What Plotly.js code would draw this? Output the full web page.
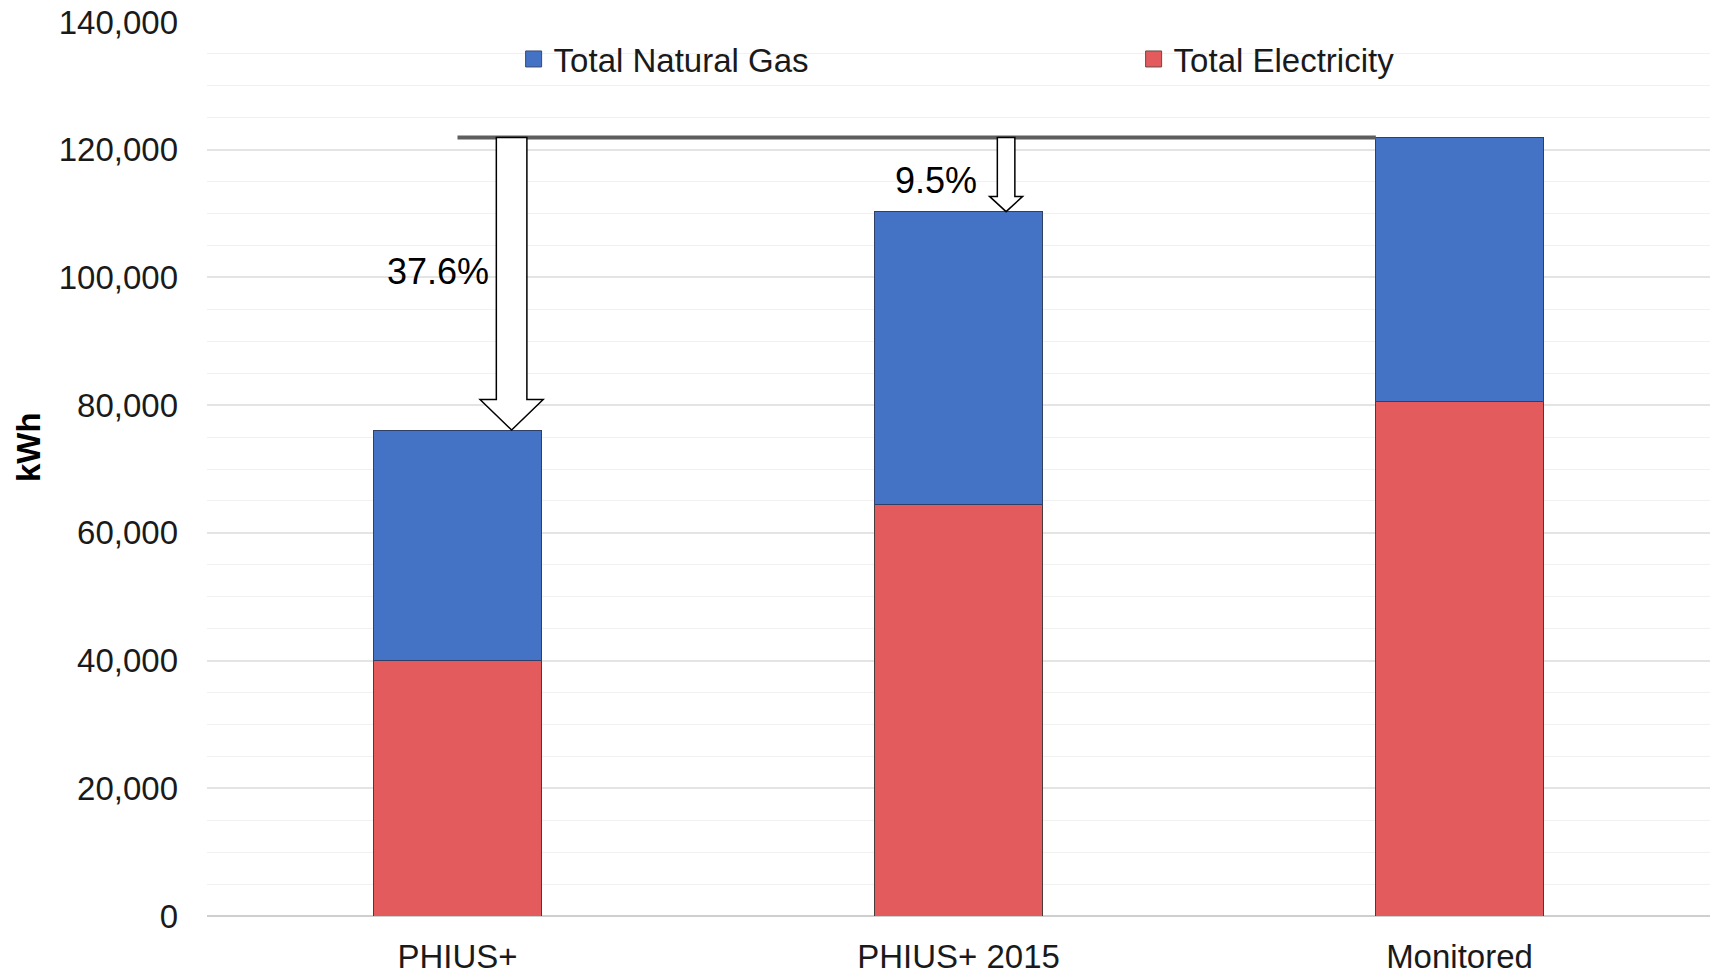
<!DOCTYPE html>
<html>
<head>
<meta charset="utf-8">
<script src="https://cdn.plot.ly/plotly-3.0.1.min.js"></script>
<style>
  html, body { margin: 0; padding: 0; background: #ffffff; }
  #chart { width: 1710px; height: 978px; }
</style>
</head>
<body>
<div id="chart"></div>
<script>
// ---- Data ----
const categories = ["PHIUS+", "PHIUS+ 2015", "Monitored"];
const electricity = [40000, 64500, 80600];
const naturalGas = [36100, 45800, 41300];
const seriesNames = ["Total Electricity", "Total Natural Gas"];
const reductionLabels = ["37.6%", "9.5%"];
const yTicks = [0, 20000, 40000, 60000, 80000, 100000, 120000, 140000];

// ---- Derived ----
const totals = electricity.map((e, i) => e + naturalGas[i]);
const refTotal = totals[2];

const FONT = '"Liberation Sans", Arial, sans-serif';
const barWidthFrac = 0.334;
const COLORS = { elec: '#E45B5E', gas: '#4472C4' };
const EDGES = { elec: '#4a3a3a', gas: '#2f3f66' };

// Block-arrow path helper (x in category serial units, y in data units)
function arrowPath(xc, shaftHalf, headHalf, yTop, yTip, headH) {
  const yNeck = yTip + headH;
  return `M${xc - shaftHalf},${yTop} L${xc + shaftHalf},${yTop} L${xc + shaftHalf},${yNeck} ` +
         `L${xc + headHalf},${yNeck} L${xc},${yTip} L${xc - headHalf},${yNeck} ` +
         `L${xc - shaftHalf},${yNeck} Z`;
}

const arrowSpecs = [
  { cat: 0, dx: 0.108, shaftHalf: 0.0305, headHalf: 0.063, headH: 4780, labelDx: 0.067, labelY: 100900 },
  { cat: 1, dx: 0.095, shaftHalf: 0.0175, headHalf: 0.033, headH: 2390, labelDx: 0.040, labelY: 115200 }
];

const shapes = [
  {
    type: 'line', xref: 'x', yref: 'y',
    x0: 0, x1: 2 - barWidthFrac / 2, y0: refTotal, y1: refTotal,
    line: { color: '#5e5e5e', width: 4 }, layer: 'above'
  }
];
const annotations = [];
arrowSpecs.forEach((a, i) => {
  shapes.push({
    type: 'path', xref: 'x', yref: 'y',
    path: arrowPath(a.cat + a.dx, a.shaftHalf, a.headHalf, refTotal, totals[a.cat], a.headH),
    fillcolor: '#ffffff', line: { color: '#000000', width: 1.5 }, layer: 'above'
  });
  annotations.push({
    xref: 'x', yref: 'y', x: a.cat + a.labelDx, y: a.labelY,
    text: reductionLabels[i], showarrow: false, xanchor: 'right', yanchor: 'middle',
    font: { family: FONT, size: 36, color: '#000000' }
  });
});
// y-axis title (placed as a rotated annotation to match the original's offset)
annotations.push({
  xref: 'paper', yref: 'paper', x: -0.1191, y: 0.5246,
  text: '<b>kWh</b>', textangle: -90, showarrow: false,
  xanchor: 'center', yanchor: 'middle',
  font: { family: FONT, size: 33, color: '#000000' }
});

const traces = [
  {
    type: 'bar', name: seriesNames[0], x: categories, y: electricity,
    legendgroup: 'elec', showlegend: false,
    marker: { color: COLORS.elec, line: { color: EDGES.elec, width: 1 } },
    hoverinfo: 'x+y+name'
  },
  {
    type: 'bar', name: seriesNames[1], x: categories, y: naturalGas,
    legendgroup: 'gas', showlegend: false,
    marker: { color: COLORS.gas, line: { color: EDGES.gas, width: 1 } },
    hoverinfo: 'x+y+name'
  },
  // legend keys (larger square swatches, same series)
  {
    type: 'scatter', mode: 'markers', name: seriesNames[0], x: [null], y: [null],
    legendgroup: 'elec', showlegend: true, hoverinfo: 'skip',
    marker: { symbol: 'square', size: 16, color: COLORS.elec, line: { color: '#6a4a4a', width: 1 } }
  },
  {
    type: 'scatter', mode: 'markers', name: seriesNames[1], x: [null], y: [null],
    legendgroup: 'gas', showlegend: true, hoverinfo: 'skip',
    marker: { symbol: 'square', size: 16, color: COLORS.gas, line: { color: '#3a4a70', width: 1 } }
  }
];

const layout = {
  width: 1710, height: 978,
  margin: { l: 207, r: 0, t: 22, b: 62, pad: 0, autoexpand: false },
  paper_bgcolor: '#ffffff', plot_bgcolor: '#ffffff',
  font: { family: FONT, size: 33, color: '#1a1a1a' },
  barmode: 'stack',
  bargap: 1 - barWidthFrac,
  showlegend: true,
  legend: {
    orientation: 'h', traceorder: 'reversed',
    xref: 'paper', yref: 'paper',
    x: 0.204, xanchor: 'left',
    y: 0.9586, yanchor: 'middle',
    entrywidth: 575, entrywidthmode: 'pixels',
    itemsizing: 'trace',
    font: { family: FONT, size: 33, color: '#1a1a1a' },
    bgcolor: 'rgba(0,0,0,0)', borderwidth: 0
  },
  xaxis: {
    type: 'category',
    showgrid: false, showline: false, zeroline: false,
    ticks: '', ticklabelstandoff: 18,
    tickfont: { family: FONT, size: 33, color: '#1a1a1a' },
    fixedrange: true
  },
  yaxis: {
    range: [0, 140000],
    tickvals: yTicks,
    tickformat: ',d',
    showgrid: true, gridcolor: '#e4e4e4', gridwidth: 1.5,
    minor: { dtick: 5000, showgrid: true, gridcolor: '#f1f1f1', gridwidth: 1 },
    zeroline: true, zerolinecolor: '#cfcfcf', zerolinewidth: 2,
    showline: false, ticks: '', ticklabelstandoff: 28,
    tickfont: { family: FONT, size: 33, color: '#1a1a1a' },
    automargin: false,
    fixedrange: true
  },
  shapes: shapes,
  annotations: annotations
};

Plotly.newPlot('chart', traces, layout, { displayModeBar: false, responsive: false, staticPlot: false });
</script>
</body>
</html>
